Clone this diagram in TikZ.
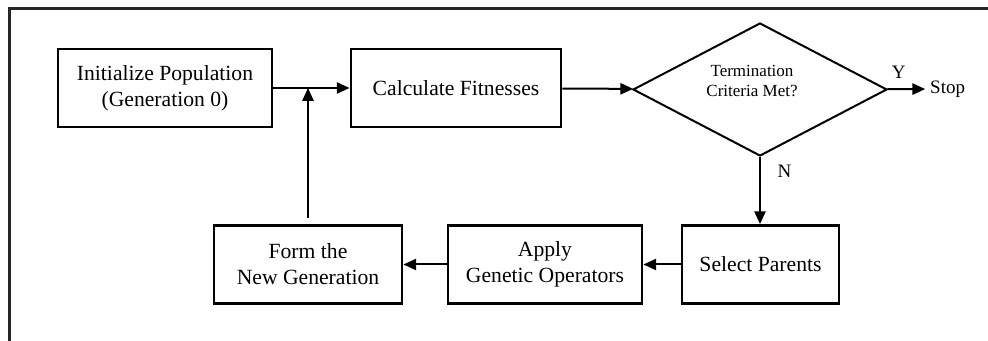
\documentclass[tikz,border=0pt]{standalone}
\usepackage{fontspec}
\setmainfont{Liberation Serif}
\usepackage{xcolor}
\usetikzlibrary{shapes,arrows.meta,positioning}

\begin{document}
\begin{tikzpicture}[
    stepbox/.style={
        draw,
        line width=0.7mm,
        minimum height=1.95cm,
        align=center,
        font=\fontsize{15.4}{18.5}\selectfont
        },
    decision/.style={
        diamond,
        draw,
        line width=0.5mm,
        aspect=1.91,
        inner sep=0pt,
        minimum width=6.35cm,
        minimum height=3.325cm,
        align=center,
        text depth=0.45cm,
        font=\fontsize{12.1}{14.2}\selectfont
        },
    flow/.style={
        ->,
        line width=0.5mm
        },
    answer/.style={
        font=\fontsize{13.5}{16}\selectfont
        },
    >={Triangle[length=0.32cm,width=0.28cm]}
    ]

                \useasboundingbox (0,0) rectangle (24.7,-8.525);

                % frame
                \draw[
                    line width=0.75mm,
                    color=black!85
                    ] (0.225,-8.6) |- (24.8,-0.225);

                % top row
                \node[stepbox, minimum width=5.35cm] (init) at (4.125,-2.2)
                    {Initialize Population\\(Generation 0)};
                \node[stepbox, minimum width=5.25cm] (calc) at (11.4,-2.2)
                    {Calculate Fitnesses};
                \node[decision] (term) at (19.0,-2.2375)
                    {Termination\hspace*{0.4cm}\\Criteria Met?\hspace*{0.4cm}};
                \node[answer] (stop) at (23.69,-2.225) {Stop};

                % bottom row
                \node[stepbox, minimum width=4.7cm] (form) at (7.7,-6.6125)
                    {Form the\\New Generation};
                \node[stepbox, minimum width=4.85cm] (apply) at (13.625,-6.6125)
                    {Apply\\Genetic Operators};
                \node[stepbox, minimum width=3.925cm] (select) at (19.0125,-6.6125)
                    {Select Parents};

                \coordinate (join) at (form.north |- init.east);

                \draw[flow] (init) -- (calc);
                \draw[flow] (calc) -- (term);
                \draw[flow] (term) -- node[answer, above=0.12cm, pos=0.3] {Y} (stop);
                \draw[flow] (term.south) -- node[answer, right=0.3cm, pos=0.22] {N}
                    (term.south |- select.north);
                \draw[flow] (select) -- (apply);
                \draw[flow] (apply) -- (form);
                \draw[flow, shorten <=0.15cm] (form.north) -- (join);

\end{tikzpicture}
\end{document}
